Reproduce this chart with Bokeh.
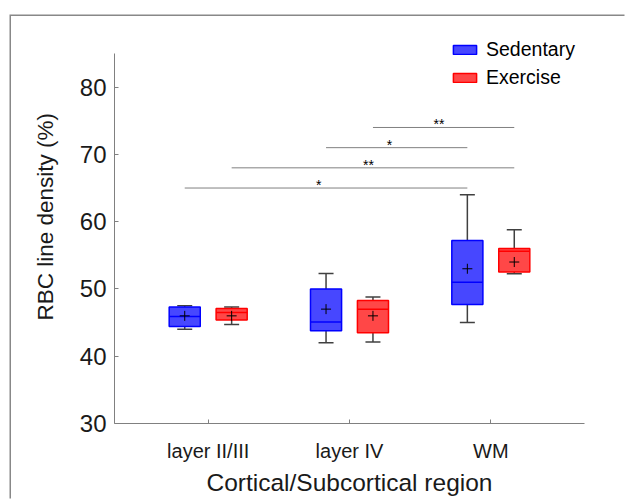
import math
from bokeh.plotting import figure
from bokeh.models import (FactorRange, Range1d, ColumnDataSource, Legend, LegendItem,
                          Title, FixedTicker)
from bokeh.transform import dodge
from bokeh.core.properties import value
from bokeh.embed import file_html
from bokeh.resources import INLINE

# ---------------- data ----------------
regions = ["layer II/III", "layer IV", "WM"]
groups = ["Sedentary", "Exercise"]

sed_low = [44.0, 42.0, 45.0]
sed_q1 = [44.4, 43.8, 47.7]
sed_median = [45.9, 45.1, 51.0]
sed_q3 = [47.3, 50.0, 57.2]
sed_high = [47.5, 52.3, 64.0]
sed_mean = [46.0, 47.0, 53.0]

ex_low = [44.7, 42.1, 52.25]
ex_q1 = [45.4, 43.5, 52.5]
ex_median = [46.5, 47.0, 55.6]
ex_q3 = [47.1, 48.3, 56.0]
ex_high = [47.3, 48.8, 58.8]
ex_mean = [46.0, 46.0, 54.0]

y_ticks = [30, 40, 50, 60, 70, 80]
y_axis_bounds = (30, 85)

sig_from_region = ["layer II/III", "layer II/III", "layer IV", "layer IV"]
sig_from_group = ["Sedentary", "Exercise", "Sedentary", "Exercise"]
sig_to_region = ["WM", "WM", "WM", "WM"]
sig_to_group = ["Sedentary", "Exercise", "Sedentary", "Exercise"]
sig_y = [65, 68, 71, 74]
sig_label = ["*", "**", "*", "**"]

# ---------------- style / layout ----------------
FONT = "Liberation Sans"
offsets = {"Sedentary": -0.166, "Exercise": 0.166}
colors = {"Sedentary": "blue", "Exercise": "red"}
BOX_W = 0.22
GREY = "#808080"
WHISKER = "#404040"
TXT = "#1a1a1a"

p = figure(width=615, height=484,
           x_range=FactorRange(factors=regions, range_padding=0.163,
                               range_padding_units="absolute"),
           y_range=Range1d(30, 89.9),
           output_backend="svg", toolbar_location=None,
           min_border_left=102, min_border_right=42,
           min_border_top=4, min_border_bottom=77)
p.margin = (16, 0, 0, 11)
p.styles = {"box-shadow": "-1.5px -1.5px 0px 0px #888888"}
p.outline_line_color = None
p.xgrid.visible = False
p.ygrid.visible = False
p.background_fill_color = "white"
p.border_fill_color = "white"

p.yaxis.ticker = FixedTicker(ticks=y_ticks)
p.yaxis.bounds = y_axis_bounds
for ax in (p.xaxis[0], p.yaxis[0]):
    ax.axis_line_color = GREY
    ax.axis_line_width = 1
    ax.major_tick_line_color = GREY
    ax.major_tick_in = 4
    ax.major_tick_out = 0
    ax.minor_tick_in = 0
    ax.minor_tick_out = 0
    ax.major_label_text_font = FONT
    ax.major_label_text_color = TXT

p.yaxis.major_label_text_font_size = "24px"
p.yaxis.major_label_standoff = 8
p.xaxis.major_label_text_font_size = "20px"
p.xaxis.major_label_standoff = 16
p.xaxis.axis_label = "Cortical/Subcortical region"
p.xaxis.axis_label_text_font = FONT
p.xaxis.axis_label_text_font_size = "24.5px"
p.xaxis.axis_label_text_font_style = "normal"
p.xaxis.axis_label_text_color = TXT
p.xaxis.axis_label_standoff = 4

stats = {
    "Sedentary": (sed_low, sed_q1, sed_median, sed_q3, sed_high, sed_mean),
    "Exercise": (ex_low, ex_q1, ex_median, ex_q3, ex_high, ex_mean),
}

box_renderers = {}
for g in groups:
    lo, q1, med, q3, hi, mn = stats[g]
    src = ColumnDataSource(dict(region=regions, lo=lo, q1=q1, med=med, q3=q3, hi=hi, mean=mn))
    off = offsets[g]
    xc = dodge("region", off, range=p.x_range)
    p.segment(x0=xc, y0="q3", x1=xc, y1="hi", source=src, line_color=WHISKER, line_width=1.5)
    p.segment(x0=xc, y0="q1", x1=xc, y1="lo", source=src, line_color=WHISKER, line_width=1.5)
    p.scatter(x=xc, y="hi", source=src, marker="dash", size=15, line_color=WHISKER, line_width=1.5)
    p.scatter(x=xc, y="lo", source=src, marker="dash", size=15, line_color=WHISKER, line_width=1.5)
    r = p.vbar(x=xc, width=BOX_W, bottom="q1", top="q3", source=src,
               fill_color=colors[g], fill_alpha=0.72, line_color=colors[g], line_width=1.5)
    box_renderers[g] = r
    p.segment(x0=dodge("region", off - BOX_W / 2, range=p.x_range), y0="med",
              x1=dodge("region", off + BOX_W / 2, range=p.x_range), y1="med",
              source=src, line_color=colors[g], line_width=1.5)
    p.scatter(x=xc, y="mean", source=src, marker="cross", size=10, line_color="black", line_width=1)

# significance bars (synthetic factor coordinates: factor i centred at i + 0.5)
x0s, x1s, xm = [], [], []
for rf, gf, rt, gt in zip(sig_from_region, sig_from_group, sig_to_region, sig_to_group):
    a = regions.index(rf) + 0.5 + offsets[gf]
    b = regions.index(rt) + 0.5 + offsets[gt]
    x0s.append(a)
    x1s.append(b)
    xm.append((a + b) / 2)
sig_src = ColumnDataSource(dict(x0=x0s, x1=x1s, xm=xm, y=sig_y, label=sig_label))
p.segment(x0="x0", y0="y", x1="x1", y1="y", source=sig_src, line_color=GREY, line_width=1)
p.text(x="xm", y="y", text="label", source=sig_src, text_font=value(FONT),
       text_font_size="14px", text_align="left", text_baseline="alphabetic",
       x_offset=-10, y_offset=-3, text_color="black")

legend = Legend(items=[LegendItem(label=g, renderers=[box_renderers[g]]) for g in groups],
                location=(336, 334), orientation="vertical",
                label_text_font=FONT, label_text_font_size="19.5px", label_text_color="black",
                glyph_width=29, glyph_height=11, label_height=20, spacing=5,
                label_standoff=7, padding=0, margin=0,
                border_line_color=None, background_fill_alpha=0)
p.add_layout(legend)

p.add_layout(Title(text="RBC line density (%)", align="left", offset=103,
                   text_font=FONT, text_font_size="22.5px", text_font_style="normal",
                   text_color=TXT, standoff=38), "left")

open("out.html", "w").write(file_html(p, INLINE))
